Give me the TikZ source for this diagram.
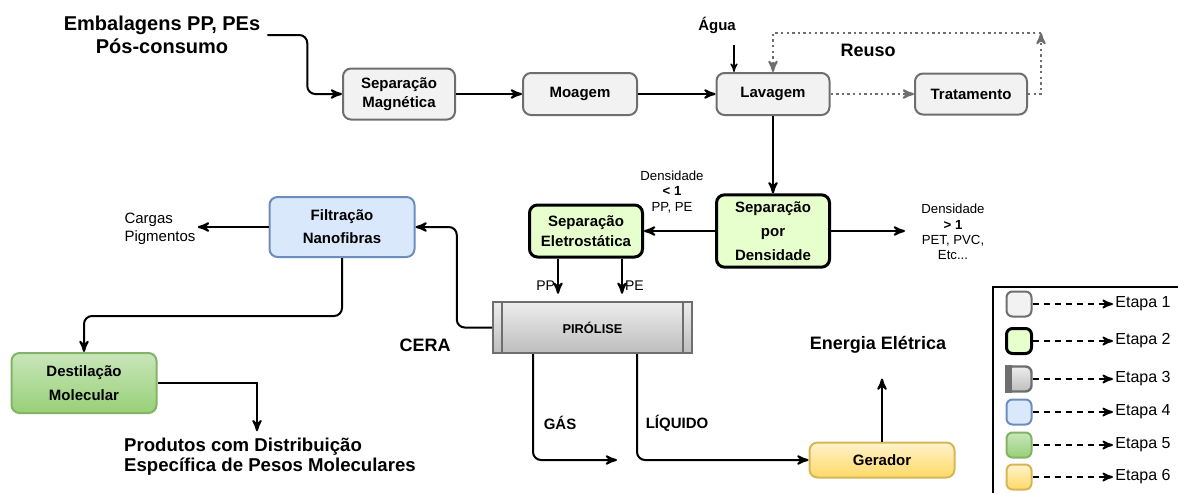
\documentclass[tikz,border=0pt]{standalone}
\usepackage{fontspec}
\setmainfont{Liberation Sans}
\usetikzlibrary{arrows}
\definecolor{cinzafundo}{HTML}{F2F2F2}
\definecolor{cinzaborda}{HTML}{6E6E6E}
\definecolor{verdeclaro}{HTML}{E6FFCC}
\definecolor{azulfundo}{HTML}{DAE8FC}
\definecolor{azulborda}{HTML}{6C8EBF}
\definecolor{verdetopo}{HTML}{C9E6BA}
\definecolor{verdebase}{HTML}{97D077}
\definecolor{verdeborda}{HTML}{82B366}
\definecolor{amarelotopo}{HTML}{FFF2CC}
\definecolor{amarelobase}{HTML}{FFD966}
\definecolor{amareloborda}{HTML}{D6B656}
\definecolor{pirotopo}{HTML}{EDEDED}
\definecolor{pirobase}{HTML}{BDBDBD}
\tikzstyle{caixa}=[rectangle, rounded corners=4pt, align=center, line width=1pt,
font=\fontsize{7.5}{9.5}\selectfont\bfseries]
\tikzstyle{etapaum}=[caixa, fill=cinzafundo, draw=cinzaborda]
\tikzstyle{etapadois}=[caixa, fill=verdeclaro, draw=black, line width=1.5pt]
\tikzstyle{etapatres}=[rectangle, top color=pirotopo, bottom color=pirobase, draw=cinzaborda,
line width=1.2pt, align=center, font=\fontsize{6.4}{8}\selectfont\bfseries]
\tikzstyle{etapaquatro}=[caixa, fill=azulfundo, draw=azulborda]
\tikzstyle{etapacinco}=[caixa, top color=verdetopo, bottom color=verdebase, draw=verdeborda]
\tikzstyle{etapaseis}=[caixa, top color=amarelotopo, bottom color=amarelobase, draw=amareloborda]
\tikzstyle{titulo}=[align=center, font=\fontsize{10}{11.5}\selectfont\bfseries]
\tikzstyle{rotulo}=[font=\fontsize{7.5}{9}\selectfont\bfseries]
\tikzstyle{pequeno}=[align=center, font=\fontsize{6.6}{7.6}\selectfont, inner sep=1pt]
\tikzstyle{legenda}=[font=\fontsize{8}{9}\selectfont, inner sep=1pt, anchor=west]
\tikzstyle{icone}=[minimum width=12.5pt, minimum height=12.5pt, inner sep=0pt, rounded corners=3pt]
\tikzstyle{seta}=[->, >=stealth', line width=1pt]
\tikzstyle{pontilhado}=[->, >=stealth', line width=1pt, cinzaborda, dash pattern=on 1.2pt off 1.6pt]
\tikzstyle{tracejado}=[->, >=stealth', line width=0.9pt, dash pattern=on 3pt off 2.5pt]

\begin{document}
\begin{tikzpicture}[x=0.5pt, y=-0.5pt]
\useasboundingbox (0,0) rectangle (1178,493);
% primeira etapa
\node[titulo](embalagens) at (162,35) {Embalagens PP, PEs\\Pós-consumo};
\node[etapaum, minimum width=56pt, minimum height=25.5pt](sepmag) at (399,94) {Separação\\Magnética};
\node[etapaum, minimum width=57pt, minimum height=21pt](moagem) at (580,94) {Moagem};
\node[etapaum, minimum width=56.5pt, minimum height=21pt](lavagem) at (773,94) {Lavagem};
\node[etapaum, minimum width=56pt, minimum height=20.5pt](tratamento) at (971,94) {Tratamento};
\node[rotulo](agua) at (717,25) {Água};
\node[rotulo, font=\fontsize{9}{10}\selectfont\bfseries](reuso) at (868,50) {Reuso};
\coordinate (aguain) at (734,45);
\coordinate (reusocanto) at (1041,33);
% separacoes
\node[etapadois, minimum width=56.5pt, minimum height=36pt, font=\fontsize{7.5}{12}\selectfont\bfseries](sepdens) at (773,231) {Separação\\por\\Densidade};
\node[etapadois, minimum width=56.5pt, minimum height=26pt, font=\fontsize{7.5}{10}\selectfont\bfseries](sepele) at (586,231) {Separação\\Eletrostática};
\node[pequeno](densmenor) at (672,192) {Densidade\\\textbf{< 1}\\PP, PE};
\node[pequeno](densmaior) at (953,232) {Densidade\\\textbf{> 1}\\PET, PVC,\\Etc...};
\coordinate (densout) at (905,231);
% pirolise e produtos
\node[etapatres, minimum width=99.5pt, minimum height=25.5pt](pirolise) at (592.5,327.5) {PIRÓLISE};
\draw[cinzaborda, line width=1pt] ([xshift=5pt]pirolise.north west) -- ([xshift=5pt]pirolise.south west);
\draw[cinzaborda, line width=1pt] ([xshift=-5pt]pirolise.north east) -- ([xshift=-5pt]pirolise.south east);
\node[rotulo, font=\fontsize{9}{10}\selectfont\bfseries](cera) at (425,345) {CERA};
\node[etapaquatro, minimum width=72.5pt, minimum height=30pt, font=\fontsize{7.5}{11.5}\selectfont\bfseries](filtracao) at (342,227) {Filtração\\Nanofibras};
\node[pequeno, align=left, font=\fontsize{7.5}{9}\selectfont](cargas) at (160,229) {Cargas\\Pigmentos};
\node[etapacinco, minimum width=72.5pt, minimum height=30pt, font=\fontsize{7.5}{12}\selectfont\bfseries](destilacao) at (84,383) {Destilação\\Molecular};
\node[titulo, align=left, font=\fontsize{9.3}{10}\selectfont\bfseries](produtos) at (270,457) {Produtos com Distribuição\\Específica de Pesos Moleculares};
\node[rotulo](gas) at (560,423) {GÁS};
\node[rotulo](liquido) at (677,423) {LÍQUIDO};
\node[etapaseis, minimum width=72.5pt, minimum height=17.5pt](gerador) at (882,460) {Gerador};
\node[rotulo, font=\fontsize{9}{10}\selectfont\bfseries](energia) at (878,345) {Energia Elétrica};
\coordinate (gasfim) at (617,460);
\coordinate (ppsai) at ([xshift=-14pt]sepele.south);
\coordinate (pesai) at ([xshift=18pt]sepele.south);
\coordinate (gassai) at ([xshift=-29.75pt]pirolise.south);
\coordinate (liqsai) at ([xshift=22.25pt]pirolise.south);
% ligacoes
\draw[seta, rounded corners=4pt] (embalagens.east) -- ++(40,0) |- (sepmag.west);
\draw[seta] (sepmag) -- (moagem);
\draw[seta] (moagem) -- (lavagem);
\draw[seta, line width=0.6pt] (aguain) -- (aguain |- lavagem.north);
\draw[pontilhado] (lavagem) -- (tratamento);
\draw[pontilhado] (tratamento.east) -| (reusocanto);
\draw[pontilhado] (reusocanto) -| (lavagem.north);
\draw[seta] (lavagem) -- (sepdens);
\draw[seta] (sepdens) -- (sepele);
\draw[seta] (sepdens) -- (densout);
\draw[seta, shorten >=3.5pt] (ppsai) -- (ppsai |- pirolise.north) node[pequeno, pos=0.65, left, font=\fontsize{7}{8}\selectfont]{PP};
\draw[seta, shorten >=3.5pt] (pesai) -- (pesai |- pirolise.north) node[pequeno, pos=0.65, right, font=\fontsize{7}{8}\selectfont]{PE};
\draw[seta, rounded corners=4pt] (pirolise.west) -- ++(-35,0) |- (filtracao.east);
\draw[seta] (filtracao.west) -- (filtracao.west -| cargas.east);
\draw[seta, rounded corners=4pt] (filtracao.south) -- ++(0,58) -| (destilacao.north);
\draw[seta] (destilacao.east) -| ([xshift=-6.5pt]produtos.north);
\draw[seta, rounded corners=4pt] (gassai) |- (gasfim);
\draw[seta, rounded corners=4pt] (liqsai) |- (gerador.west);
\draw[seta] (gerador.north) -- ++(0,-63);
% legenda
\draw[line width=0.8pt] (1178,287) -| (993,493);
\node[etapaum, icone](icone1) at (1019,304) {};
\node[etapadois, icone](icone2) at (1019,341) {};
\node[etapatres, icone](icone3) at (1019,379) {};
\fill[cinzaborda] (icone3.north west) rectangle ([xshift=3.5pt]icone3.south west);
\node[etapaquatro, icone](icone4) at (1019,412) {};
\node[etapacinco, icone](icone5) at (1019,445) {};
\node[etapaseis, icone](icone6) at (1019,477) {};
\node[legenda](etapa1) at (1113,304) {Etapa 1};
\node[legenda](etapa2) at (1113,341) {Etapa 2};
\node[legenda](etapa3) at (1113,379) {Etapa 3};
\node[legenda](etapa4) at (1113,412) {Etapa 4};
\node[legenda](etapa5) at (1113,445) {Etapa 5};
\node[legenda](etapa6) at (1113,477) {Etapa 6};
\draw[tracejado] (icone1) -- (etapa1);
\draw[tracejado] (icone2) -- (etapa2);
\draw[tracejado] (icone3) -- (etapa3);
\draw[tracejado] (icone4) -- (etapa4);
\draw[tracejado] (icone5) -- (etapa5);
\draw[tracejado] (icone6) -- (etapa6);
\end{tikzpicture}
\end{document}
